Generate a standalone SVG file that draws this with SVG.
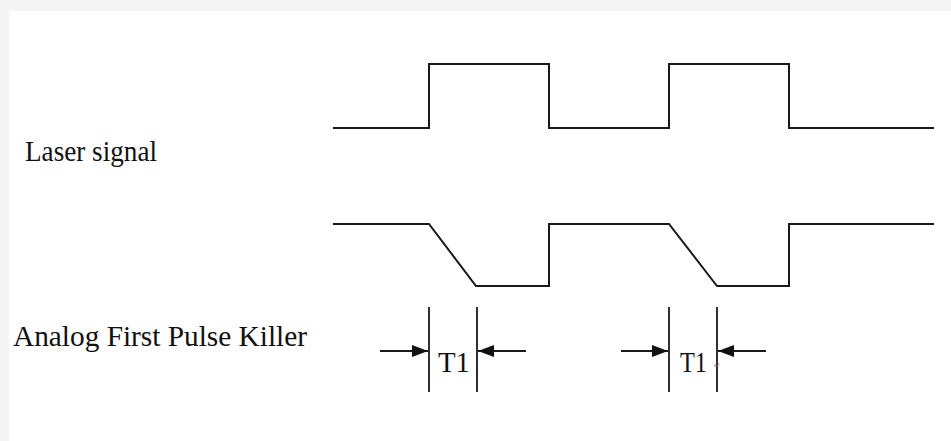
<svg xmlns="http://www.w3.org/2000/svg" width="951" height="441" viewBox="0 0 951 441">
<style>
.sig{fill:none;stroke:#1a1a1a;stroke-width:2;stroke-linejoin:miter}
.dim{fill:none;stroke:#1a1a1a;stroke-width:1.8}
.lbl{font-family:"Liberation Serif","Times New Roman",serif;font-size:30px;fill:#111}
</style>
<defs>
<marker id="ah" viewBox="0 0 16 12" refX="16" refY="6" markerWidth="16" markerHeight="12" markerUnits="userSpaceOnUse" orient="auto">
<path d="M0,0 L16,6 L0,12 Z" fill="#111"/>
</marker>
</defs>
<rect x="0" y="0" width="951" height="441" fill="#f4f4f4"/>
<rect x="9" y="11" width="942" height="430" fill="#ffffff"/>
<g id="laser-label"><text class="lbl" x="25" y="161" textLength="132" lengthAdjust="spacingAndGlyphs">Laser signal</text></g>
<g id="apk-label"><text class="lbl" x="13" y="346" textLength="294" lengthAdjust="spacingAndGlyphs">Analog First Pulse Killer</text></g>
<g id="laser-signal"><path class="sig" d="M333,128 H429 V64 H549 V128 H669 V64 H789 V128 H934"/></g>
<g id="apk-signal"><path class="sig" d="M333,224 H429 L476,286 H549 V224 H669 L717,286 H789 V224 H934"/></g>
<g id="connectors">
<line class="dim" x1="429" y1="307" x2="429" y2="392"/>
<line class="dim" x1="477" y1="307" x2="477" y2="392"/>
<line class="dim" x1="380" y1="351" x2="428" y2="351" marker-end="url(#ah)"/>
<line class="dim" x1="526" y1="351" x2="478" y2="351" marker-end="url(#ah)"/>
<line class="dim" x1="669" y1="307" x2="669" y2="392"/>
<line class="dim" x1="717" y1="307" x2="717" y2="392"/>
<line class="dim" x1="621" y1="351" x2="668" y2="351" marker-end="url(#ah)"/>
<line class="dim" x1="766" y1="351" x2="718" y2="351" marker-end="url(#ah)"/>
</g>
<g id="t1-a"><text class="lbl" x="438" y="372" textLength="32" lengthAdjust="spacingAndGlyphs">T1</text></g>
<g id="t1-b"><text class="lbl" x="680" y="372" textLength="27" lengthAdjust="spacingAndGlyphs">T1</text>
<text x="714" y="368" font-family="DejaVu Sans, sans-serif" font-size="8" fill="#999">↵</text></g>
</svg>
